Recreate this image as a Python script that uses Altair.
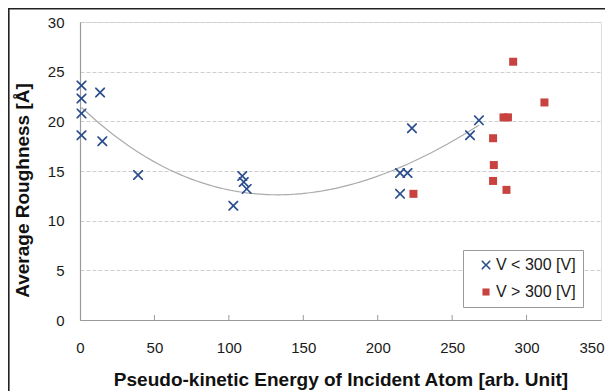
import altair as alt
import pandas as pd

# ---- data ----
blue_label = "V < 300 [V]"
red_label = "V > 300 [V]"
blue_x = [1, 1, 1, 1, 13.5, 15, 39, 103, 109, 110, 112, 215, 215, 220, 223, 262, 268]
blue_y = [23.6, 22.3, 20.8, 18.6, 22.9, 18.0, 14.6, 11.5, 14.5, 13.9, 13.2, 12.7, 14.8, 14.8, 19.3, 18.6, 20.1]
red_x = [224, 277.5, 278, 277.5, 286.5, 284.5, 287.5, 291, 312]
red_y = [12.7, 18.3, 15.6, 14.0, 13.1, 20.4, 20.4, 26.0, 21.9]
x_ticks = [0, 50, 100, 150, 200, 250, 300, 350]
y_ticks = [0, 5, 10, 15, 20, 25, 30]
inner_ticks = [50, 100, 150, 200, 250, 300]

blue_color = "#2B4E8C"
red_color = "#C8423F"
FONT = "Liberation Sans"
W, H = 521, 298

df = pd.DataFrame({
    "x": blue_x + red_x,
    "y": blue_y + red_y,
    "series": [blue_label] * len(blue_x) + [red_label] * len(red_x),
})
blue_df = pd.DataFrame({"x": blue_x, "y": blue_y})

x_path = ("M0,-0.3L0.95,-1.25L1.25,-1.25L1.25,-0.95L0.3,0L1.25,0.95L1.25,1.25L0.95,1.25"
          "L0,0.3L-0.95,1.25L-1.25,1.25L-1.25,0.95L-0.3,0L-1.25,-0.95L-1.25,-1.25L-0.95,-1.25Z")

x_scale = alt.Scale(domain=[0, 350], nice=False, zero=False)
y_scale = alt.Scale(domain=[0, 30], nice=False)

x_axis = alt.Axis(
    values=x_ticks, format="d", grid=False, ticks=False, tickSize=0, labelFlush=False,
    labelAlign={"condition": {"test": "datum.value === 350", "value": "right"}, "value": "center"},
    labelOffset={"condition": {"test": "datum.value === 350", "value": 3}, "value": 0},
    labelFont=FONT, labelFontSize=15, labelColor="#1a1a1a", labelPadding=20,
    domainColor="#9a9a9a", domainWidth=1.2,
    title="Pseudo-kinetic Energy of Incident Atom [arb. Unit]",
    titleFont=FONT, titleFontSize=19, titleFontWeight="bold", titleColor="#111",
    titleBaseline="alphabetic", titleY=65, titleX=W / 2,
)
y_axis = alt.Axis(
    values=y_ticks, format="d", grid=True, gridColor="#cfcfcf", gridDash=[4, 2],
    ticks=False, tickSize=0, labelFlush=False,
    labelFont=FONT, labelFontSize=15, labelColor="#1a1a1a", labelPadding=16,
    domainColor="#9a9a9a", domainWidth=1.2,
    title="Average Roughness [Å]",
    titleFont=FONT, titleFontSize=19, titleFontWeight="bold", titleColor="#111",
    titleAngle=270, titleBaseline="middle", titleAlign="center",
    titleX=-58, titleY=168,
)

legend = alt.Legend(
    title=None, orient="none", legendX=383, legendY=228,
    padding=7, rowPadding=11, symbolOffset=8, labelOffset=2,
    labelFont=FONT, labelFontSize=16, labelColor="#1a1a1a", labelLimit=300,
    strokeColor="#9a9a9a", fillColor="white", symbolSize=50, symbolStrokeWidth=0,
)

frame = alt.Chart(pd.DataFrame({"k": [0]})).mark_rect(
    filled=False, stroke="#222222", strokeWidth=1.6
).encode(
    x=alt.value(-71.2), x2=alt.value(W + 40), y=alt.value(-13.2), y2=alt.value(H + 120)
)

tick_rules = alt.Chart(pd.DataFrame({"x": inner_ticks})).mark_rule(
    color="#9a9a9a", strokeWidth=1
).encode(
    x=alt.X("x:Q", scale=x_scale, axis=x_axis),
    y=alt.value(H - 5), y2=alt.value(H),
)

trend = alt.Chart(blue_df).transform_regression(
    "x", "y", method="poly", order=3
).mark_line(color="#ababab", strokeWidth=1.2).encode(
    x=alt.X("x:Q", scale=x_scale, axis=x_axis),
    y=alt.Y("y:Q", scale=y_scale, axis=y_axis),
)

points = alt.Chart(df).mark_point(filled=True, size=64, opacity=1, strokeWidth=0).encode(
    x=alt.X("x:Q", scale=x_scale, axis=x_axis),
    y=alt.Y("y:Q", scale=y_scale, axis=y_axis),
    color=alt.Color("series:N", scale=alt.Scale(domain=[blue_label, red_label],
                                                range=[blue_color, red_color]), legend=legend),
    shape=alt.Shape("series:N", scale=alt.Scale(domain=[blue_label, red_label],
                                                range=[x_path, "square"]), legend=legend),
)

chart = alt.layer(frame, tick_rules, trend, points).properties(
    width=W, height=H,
    autosize=alt.AutoSizeParams(type="none"),
    padding={"left": 72, "top": 14, "right": 4, "bottom": 71},
).configure_view(stroke="#b4b4b4", strokeWidth=1.2).configure(background="white")

chart.save("out.html", embed_options={"renderer": "svg", "actions": False})
